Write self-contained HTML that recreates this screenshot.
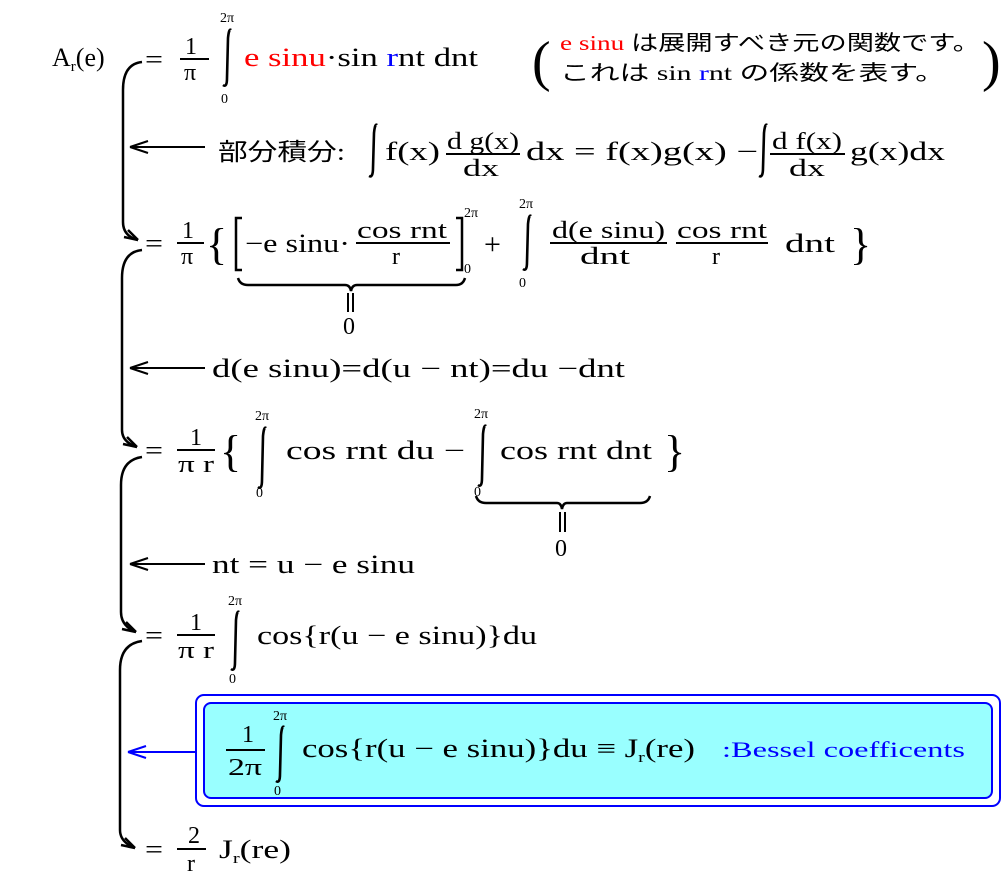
<!DOCTYPE html>
<html><head><meta charset="utf-8"><style>
html,body{margin:0;padding:0;background:#fff;}
svg{display:block}
text{font-family:"Liberation Serif","Noto Serif CJK SC",serif;fill:#000;}
.j{font-family:"Liberation Serif","Noto Sans CJK JP",sans-serif;}
.s{font-size:14px;}
.m{font-size:26px;}
.f{font-size:24px;}
</style></head><body>
<svg width="1008" height="887" viewBox="0 0 1008 887" xmlns="http://www.w3.org/2000/svg">
<g fill="none" stroke="#000" stroke-width="2.5">
<path d="M142 62 Q123 64 123 90 L123 222 Q123 236 138 240"/>
<path d="M138 240 l-10 -10 M138 240 l-14 -3"/>
<path d="M142 250 Q122 252 122 278 L122 430 Q122 442 137 447"/>
<path d="M137 447 l-10 -10 M137 447 l-14 -3"/>
<path d="M142 457 Q121 460 121 485 L121 612 Q121 626 136 632"/>
<path d="M136 632 l-10 -10 M136 632 l-14 -3"/>
<path d="M142 641 Q120 644 120 670 L120 830 Q120 842 135 848"/>
<path d="M135 848 l-10 -10 M135 848 l-14 -3"/>
</g>
<g stroke="#000" stroke-width="2" fill="none">
<path d="M130 147 H205 M130 147 l18 -6 M130 147 l18 6"/>
<path d="M130 368 H205 M130 368 l18 -6 M130 368 l18 6"/>
<path d="M130 564 H205 M130 564 l18 -6 M130 564 l18 6"/>
</g>
<g stroke="#000" stroke-width="2.6" fill="none">
<path d="M231 30 Q229 28 228 38 L227 78 Q227 88 223 85"/>
<path d="M377 125 Q375 123 374 133 L373 168 Q373 178 369 176"/>
<path d="M767 125 Q765 123 764 133 L763 168 Q763 178 759 176"/>
<path d="M531 216 Q529 214 528 224 L527 262 Q527 272 523 269"/>
<path d="M266 428 Q264 426 263 436 L262 480 Q262 490 258 487"/>
<path d="M486 426 Q484 424 483 434 L482 478 Q482 488 478 485"/>
<path d="M239 612 Q237 610 236 620 L235 662 Q235 672 231 669"/>
</g>
<!-- row1 -->
<text x="52" y="66" class="m">A<tspan font-size="15" dy="5">r</tspan><tspan dy="-5">(e)</tspan></text>
<text x="145" y="68" class="m" textLength="18" lengthAdjust="spacingAndGlyphs">=</text>
<text x="185" y="54" class="f">1</text><line x1="180" y1="59" x2="209" y2="59" stroke="#000" stroke-width="2"/><text x="184" y="80" class="f">π</text>
<text x="220" y="22" class="s">2π</text>
<text x="221" y="103" class="s">0</text>
<text x="244" y="66" class="m" textLength="234" lengthAdjust="spacingAndGlyphs"><tspan fill="#f00">e sinu</tspan>·sin <tspan fill="#00f">r</tspan>nt  dnt</text>
<text x="532" y="80" font-size="56">(</text>
<text x="982" y="80" font-size="56">)</text>
<text x="560" y="50" class="j" font-size="21" textLength="420" lengthAdjust="spacingAndGlyphs"><tspan fill="#f00">e sinu</tspan> は展開すべき元の関数です。</text>
<text x="560" y="80" class="j" font-size="21" textLength="385" lengthAdjust="spacingAndGlyphs">これは  sin <tspan fill="#00f">r</tspan>nt  の係数を表す。</text>
<!-- row2 -->
<text x="218" y="160" class="j" font-size="24" textLength="127" lengthAdjust="spacingAndGlyphs">部分積分:</text>
<text x="385" y="160" class="m" textLength="55" lengthAdjust="spacingAndGlyphs">f(x)</text>
<text x="447" y="149" class="f" textLength="72" lengthAdjust="spacingAndGlyphs">d g(x)</text><line x1="446" y1="154" x2="520" y2="154" stroke="#000" stroke-width="2"/><text x="463" y="176" class="f" textLength="36" lengthAdjust="spacingAndGlyphs">dx</text>
<text x="526" y="160" class="m" textLength="232" lengthAdjust="spacingAndGlyphs">dx  =  f(x)g(x) −</text>
<text x="772" y="149" class="f" textLength="70" lengthAdjust="spacingAndGlyphs">d f(x)</text><line x1="770" y1="154" x2="845" y2="154" stroke="#000" stroke-width="2"/><text x="789" y="176" class="f" textLength="36" lengthAdjust="spacingAndGlyphs">dx</text>
<text x="850" y="160" class="m" textLength="95" lengthAdjust="spacingAndGlyphs">g(x)dx</text>
<!-- row3 -->
<text x="145" y="252" class="m" textLength="18" lengthAdjust="spacingAndGlyphs">=</text>
<text x="182" y="238" class="f">1</text><line x1="177" y1="243" x2="204" y2="243" stroke="#000" stroke-width="2"/><text x="181" y="264" class="f">π</text>
<text x="206" y="259" font-size="44">{</text>
<path d="M242 218 H236 V270 H242 M456 218 H462 V270 H456" stroke="#000" stroke-width="2.5" fill="none"/>
<text x="245" y="252" class="m" textLength="105" lengthAdjust="spacingAndGlyphs">−e sinu·</text>
<text x="357" y="238" class="f" textLength="90" lengthAdjust="spacingAndGlyphs">cos rnt</text><line x1="356" y1="243" x2="450" y2="243" stroke="#000" stroke-width="2"/><text x="392" y="264" class="f">r</text>
<text x="464" y="217" class="s">2π</text><text x="464" y="273" class="s">0</text>
<text x="484" y="254" font-size="30">+</text>
<text x="519" y="208" class="s">2π</text>
<text x="519" y="287" class="s">0</text>
<text x="552" y="238" class="f" textLength="113" lengthAdjust="spacingAndGlyphs">d(e sinu)</text><line x1="550" y1="243" x2="667" y2="243" stroke="#000" stroke-width="2"/><text x="580" y="264" class="f" textLength="50" lengthAdjust="spacingAndGlyphs">dnt</text>
<text x="677" y="238" class="f" textLength="90" lengthAdjust="spacingAndGlyphs">cos rnt</text><line x1="676" y1="243" x2="768" y2="243" stroke="#000" stroke-width="2"/><text x="712" y="264" class="f">r</text>
<text x="785" y="252" class="m" textLength="50" lengthAdjust="spacingAndGlyphs">dnt</text>
<text x="850" y="259" font-size="44">}</text>
<path d="M238 278 Q240 285 248 285 H345 Q350 285 351 291 Q352 285 357 285 H456 Q463 285 465 278" stroke="#000" stroke-width="2.5" fill="none"/>
<path d="M348 293 V312 M353 293 V312" stroke="#000" stroke-width="2"/>
<text x="343" y="334" class="f">0</text>
<!-- row4 -->
<text x="212" y="377" class="m" textLength="413" lengthAdjust="spacingAndGlyphs">d(e sinu)=d(u − nt)=du −dnt</text>
<!-- row5 -->
<text x="145" y="459" class="m" textLength="18" lengthAdjust="spacingAndGlyphs">=</text>
<text x="190" y="445" class="f">1</text><line x1="177" y1="450" x2="215" y2="450" stroke="#000" stroke-width="2"/><text x="178" y="472" class="f" textLength="36" lengthAdjust="spacingAndGlyphs">π r</text>
<text x="220" y="466" font-size="44">{</text>
<text x="255" y="420" class="s">2π</text>
<text x="256" y="497" class="s">0</text>
<text x="286" y="459" class="m" textLength="179" lengthAdjust="spacingAndGlyphs">cos rnt  du −</text>
<text x="474" y="418" class="s">2π</text>
<text x="474" y="496" class="s">0</text>
<text x="500" y="459" class="m" textLength="152" lengthAdjust="spacingAndGlyphs">cos rnt dnt</text>
<text x="664" y="466" font-size="44">}</text>
<path d="M476 496 Q478 503 486 503 H557 Q561 503 562 509 Q563 503 567 503 H640 Q648 503 650 496" stroke="#000" stroke-width="2.5" fill="none"/>
<path d="M560 512 V532 M565 512 V532" stroke="#000" stroke-width="2"/>
<text x="555" y="556" class="f">0</text>
<!-- row6 -->
<text x="212" y="573" class="m" textLength="203" lengthAdjust="spacingAndGlyphs">nt  =  u − e sinu</text>
<!-- row7 -->
<text x="145" y="644" class="m" textLength="18" lengthAdjust="spacingAndGlyphs">=</text>
<text x="190" y="630" class="f">1</text><line x1="177" y1="635" x2="215" y2="635" stroke="#000" stroke-width="2"/><text x="178" y="658" class="f" textLength="36" lengthAdjust="spacingAndGlyphs">π r</text>
<text x="228" y="605" class="s">2π</text>
<text x="229" y="683" class="s">0</text>
<text x="257" y="644" class="m" textLength="280" lengthAdjust="spacingAndGlyphs">cos{r(u − e sinu)}du</text>
<!-- box -->
<rect x="196" y="695" width="804" height="111" rx="8" fill="#fff" stroke="#00f" stroke-width="2"/>
<rect x="204" y="703" width="788" height="95" rx="7" fill="#99ffff" stroke="#00f" stroke-width="2"/>
<path d="M196 752 H128 M128 752 l18 -6 M128 752 l18 6" stroke="#00f" stroke-width="2" fill="none"/>
<text x="242" y="742" class="f">1</text><line x1="226" y1="750" x2="265" y2="750" stroke="#000" stroke-width="2"/><text x="228" y="775" class="f" textLength="34" lengthAdjust="spacingAndGlyphs">2π</text>
<text x="273" y="720" class="s">2π</text>
<g stroke="#000" stroke-width="2.6" fill="none"><path d="M284 727 Q282 725 281 735 L280 774 Q280 784 276 781"/></g>
<text x="274" y="795" class="s">0</text>
<text x="302" y="757" class="m" textLength="393" lengthAdjust="spacingAndGlyphs">cos{r(u − e sinu)}du ≡ J<tspan font-size="15" dy="5">r</tspan><tspan dy="-5">(re)</tspan></text>
<text x="722" y="757" font-size="22" style="fill:#00f" textLength="243" lengthAdjust="spacingAndGlyphs">:Bessel  coefficents</text>
<!-- row8 -->
<text x="145" y="858" class="m" textLength="18" lengthAdjust="spacingAndGlyphs">=</text>
<text x="188" y="843" class="f">2</text><line x1="177" y1="849" x2="206" y2="849" stroke="#000" stroke-width="2"/><text x="187" y="871" class="f">r</text>
<text x="219" y="858" class="m" textLength="72" lengthAdjust="spacingAndGlyphs">J<tspan font-size="15" dy="5">r</tspan><tspan dy="-5">(re)</tspan></text>
</svg>
</body></html>
